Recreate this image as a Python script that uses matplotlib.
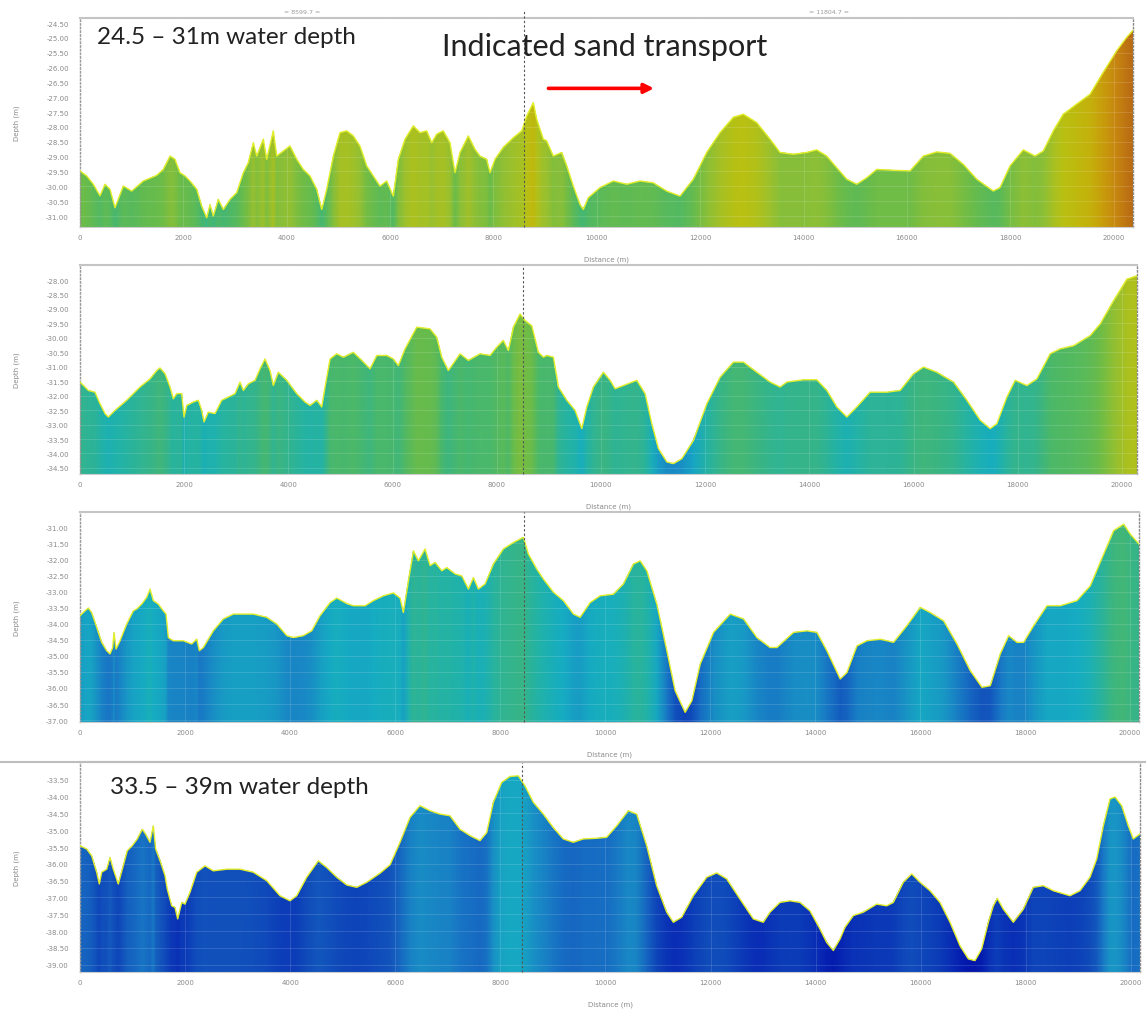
import numpy as np
import matplotlib
matplotlib.use('Agg')
import matplotlib.pyplot as plt
from matplotlib.colors import LinearSegmentedColormap, Normalize
from matplotlib.lines import Line2D

# profile 1 : 24.5 - 31 m water depth
dist_1 = [0, 130, 258, 387, 484, 581, 677, 839, 1000, 1226,
          1484, 1613, 1742, 1838, 1935, 2032, 2129, 2258, 2354, 2451,
          2516, 2580, 2677, 2774, 2903, 3032, 3161, 3257, 3354, 3419,
          3548, 3612, 3741, 3806, 3935, 4064, 4193, 4321, 4451, 4580,
          4677, 4773, 4902, 5031, 5160, 5289, 5418, 5547, 5676, 5805,
          5934, 6063, 6160, 6289, 6450, 6579, 6708, 6805, 6902, 7030,
          7160, 7256, 7353, 7514, 7643, 7740, 7869, 7934, 8030, 8191,
          8385, 8547, 8644, 8772, 8837, 8966, 9030, 9159, 9321, 9418,
          9546, 9675, 9739, 9836, 10062, 10320, 10578, 10836, 11094, 11352,
          11610, 11868, 12126, 12384, 12642, 12835, 13093, 13352, 13545, 13803,
          14061, 14255, 14448, 14642, 14835, 15029, 15222, 15416, 15738, 16061,
          16319, 16577, 16835, 17093, 17351, 17673, 17802, 17996, 18253, 18479,
          18640, 18834, 19027, 19285, 19544, 19801, 20060, 20253, 20375]
depth_1 = [-29.48, -29.65, -29.93, -30.32, -29.93, -30.10, -30.72, -29.99, -30.16, -29.82,
           -29.63, -29.43, -28.98, -29.09, -29.54, -29.65, -29.82, -30.10, -30.66, -31.06,
           -30.61, -31.00, -30.44, -30.78, -30.44, -30.21, -29.54, -29.20, -28.53, -28.98,
           -28.41, -29.09, -28.13, -28.98, -28.81, -28.64, -29.09, -29.43, -29.65, -30.10,
           -30.78, -30.10, -28.98, -28.19, -28.13, -28.30, -28.64, -29.31, -29.65, -29.99,
           -29.82, -30.33, -29.09, -28.41, -27.96, -28.19, -28.13, -28.53, -28.24, -28.13,
           -28.53, -29.54, -28.86, -28.30, -28.75, -28.98, -29.09, -29.54, -29.09, -28.69,
           -28.36, -28.13, -27.63, -27.18, -27.74, -28.41, -28.47, -28.98, -28.86, -29.31,
           -29.99, -30.61, -30.78, -30.38, -30.04, -29.82, -29.93, -29.82, -29.88, -30.16,
           -30.33, -29.76, -28.86, -28.19, -27.68, -27.57, -27.85, -28.41, -28.86, -28.92,
           -28.86, -28.77, -28.98, -29.37, -29.76, -29.93, -29.71, -29.43, -29.46, -29.48,
           -28.98, -28.84, -28.89, -29.26, -29.76, -30.16, -30.04, -29.31, -28.77, -28.98,
           -28.81, -28.13, -27.57, -27.23, -26.90, -26.16, -25.43, -24.98, -24.75]

# profile 2
dist_2 = [0, 96, 160, 288, 384, 480, 544, 672, 896, 1152,
          1344, 1472, 1536, 1632, 1728, 1792, 1856, 1952, 1997, 2048,
          2176, 2272, 2336, 2381, 2464, 2592, 2720, 2848, 2976, 3072,
          3136, 3232, 3360, 3456, 3552, 3648, 3712, 3808, 3968, 4160,
          4320, 4416, 4544, 4640, 4704, 4800, 4928, 5056, 5248, 5408,
          5568, 5696, 5888, 6016, 6112, 6240, 6464, 6720, 6848, 6944,
          7072, 7296, 7456, 7680, 7872, 8000, 8128, 8224, 8320, 8448,
          8544, 8672, 8800, 8896, 8960, 9088, 9184, 9344, 9504, 9632,
          9728, 9856, 10048, 10176, 10272, 10432, 10688, 10848, 10976, 11104,
          11264, 11392, 11552, 11776, 12032, 12288, 12544, 12736, 12992, 13248,
          13440, 13568, 13888, 14144, 14336, 14528, 14720, 14912, 15168, 15488,
          15744, 16000, 16192, 16448, 16768, 17024, 17280, 17472, 17600, 17792,
          17952, 18176, 18368, 18624, 18816, 19072, 19392, 19584, 19840, 20096,
          20290]
depth_2 = [-31.53, -31.70, -31.82, -31.88, -32.28, -32.62, -32.74, -32.51, -32.16, -31.70,
           -31.42, -31.13, -31.04, -31.24, -31.70, -32.11, -31.93, -31.93, -32.74, -32.34,
           -32.22, -32.16, -32.51, -32.91, -32.57, -32.62, -32.16, -32.05, -31.93, -31.53,
           -31.82, -31.59, -31.47, -31.07, -30.73, -31.13, -31.65, -31.19, -31.47, -31.93,
           -32.22, -32.34, -32.16, -32.39, -31.70, -30.73, -30.55, -30.67, -30.50, -30.78,
           -31.07, -30.61, -30.61, -30.73, -30.96, -30.38, -29.63, -29.69, -29.98, -30.67,
           -31.13, -30.55, -30.78, -30.55, -30.61, -30.32, -30.09, -30.44, -29.63, -29.17,
           -29.40, -29.58, -30.50, -30.67, -30.61, -30.67, -31.70, -32.16, -32.51, -33.14,
           -32.39, -31.70, -31.19, -31.47, -31.76, -31.65, -31.47, -31.93, -32.97, -33.83,
           -34.29, -34.35, -34.18, -33.55, -32.28, -31.36, -30.84, -30.84, -31.19, -31.53,
           -31.70, -31.53, -31.45, -31.45, -31.82, -32.39, -32.74, -32.39, -31.88, -31.88,
           -31.82, -31.24, -31.01, -31.19, -31.53, -32.16, -32.85, -33.14, -32.97, -32.05,
           -31.47, -31.65, -31.42, -30.55, -30.38, -30.27, -29.92, -29.52, -28.71, -27.97,
           -27.85]

# profile 3
dist_3 = [0, 95, 159, 222, 318, 413, 508, 572, 622, 648,
          686, 762, 889, 1016, 1080, 1175, 1270, 1334, 1397, 1492,
          1588, 1638, 1683, 1778, 1969, 2127, 2223, 2273, 2350, 2540,
          2731, 2921, 3302, 3556, 3747, 3937, 4064, 4254, 4413, 4572,
          4763, 4890, 5080, 5207, 5430, 5588, 5779, 5969, 6096, 6159,
          6255, 6350, 6445, 6572, 6668, 6763, 6890, 6985, 7144, 7271,
          7398, 7493, 7588, 7715, 7874, 8064, 8255, 8445, 8540, 8699,
          8826, 9017, 9207, 9398, 9525, 9716, 9906, 10160, 10350, 10541,
          10668, 10795, 10986, 11176, 11335, 11525, 11652, 11811, 12065, 12383,
          12636, 12890, 13145, 13272, 13589, 13843, 14034, 14224, 14478, 14605,
          14796, 14986, 15240, 15494, 15748, 16002, 16193, 16447, 16701, 16955,
          17177, 17336, 17526, 17685, 17844, 17971, 18161, 18415, 18669, 18987,
          19241, 19495, 19685, 19876, 20003, 20168]
depth_3 = [-33.75, -33.60, -33.51, -33.65, -34.11, -34.58, -34.84, -34.94, -34.74, -34.27,
           -34.79, -34.53, -34.01, -33.60, -33.54, -33.39, -33.18, -32.92, -33.28, -33.39,
           -33.60, -33.70, -34.43, -34.53, -34.53, -34.63, -34.48, -34.84, -34.74, -34.22,
           -33.85, -33.70, -33.70, -33.80, -34.01, -34.37, -34.43, -34.37, -34.22, -33.75,
           -33.34, -33.20, -33.37, -33.44, -33.44, -33.28, -33.13, -33.04, -33.20, -33.65,
           -32.66, -31.73, -32.04, -31.67, -32.19, -32.09, -32.35, -32.25, -32.45, -32.51,
           -32.92, -32.56, -32.92, -32.76, -32.14, -31.67, -31.47, -31.31, -31.83, -32.30,
           -32.61, -33.02, -33.28, -33.70, -33.80, -33.34, -33.13, -33.08, -32.76, -32.14,
           -32.04, -32.35, -33.39, -34.84, -36.09, -36.76, -36.40, -35.26, -34.27, -33.70,
           -33.85, -34.43, -34.74, -34.74, -34.27, -34.22, -34.27, -34.84, -35.72, -35.52,
           -34.69, -34.53, -34.48, -34.58, -34.06, -33.49, -33.65, -33.91, -34.63, -35.46,
           -35.98, -35.93, -34.94, -34.37, -34.58, -34.58, -34.06, -33.44, -33.44, -33.28,
           -32.82, -31.83, -31.10, -30.90, -31.21, -31.52]

# profile 4 : 33.5 - 39 m water depth
dist_4 = [0, 127, 222, 317, 368, 413, 508, 571, 634, 729,
          805, 900, 995, 1090, 1186, 1249, 1332, 1395, 1440, 1535,
          1618, 1661, 1745, 1808, 1859, 1935, 1998, 2093, 2221, 2379,
          2537, 2791, 3045, 3298, 3552, 3806, 3996, 4123, 4314, 4536,
          4695, 4885, 5075, 5266, 5456, 5709, 5900, 6090, 6280, 6470,
          6661, 6851, 7041, 7231, 7422, 7612, 7739, 7866, 8024, 8183,
          8341, 8468, 8627, 8817, 9007, 9198, 9388, 9578, 9832, 10023,
          10213, 10435, 10594, 10784, 10974, 11165, 11292, 11450, 11672, 11926,
          12116, 12307, 12560, 12814, 13004, 13131, 13321, 13511, 13702, 13892,
          14082, 14209, 14336, 14463, 14558, 14717, 14907, 15161, 15351, 15478,
          15668, 15827, 15986, 16176, 16366, 16557, 16747, 16906, 17032, 17159,
          17286, 17381, 17457, 17571, 17762, 17952, 18142, 18333, 18523, 18840,
          19030, 19220, 19347, 19474, 19601, 19696, 19823, 19950, 20045, 20172]
depth_4 = [-35.46, -35.56, -35.76, -36.25, -36.60, -36.25, -36.16, -35.81, -36.16, -36.60,
           -36.16, -35.61, -35.46, -35.26, -34.97, -35.12, -35.36, -34.87, -35.56, -35.96,
           -36.35, -36.75, -37.25, -37.30, -37.64, -37.15, -37.20, -36.85, -36.25, -36.06,
           -36.21, -36.16, -36.16, -36.25, -36.50, -36.95, -37.10, -36.95, -36.40, -35.91,
           -36.11, -36.40, -36.63, -36.70, -36.55, -36.28, -36.03, -35.36, -34.62, -34.27,
           -34.42, -34.52, -34.57, -34.97, -35.16, -35.31, -35.07, -34.17, -33.58, -33.40,
           -33.38, -33.68, -34.17, -34.52, -34.92, -35.26, -35.36, -35.26, -35.24, -35.21,
           -34.87, -34.42, -34.52, -35.46, -36.65, -37.44, -37.74, -37.59, -36.95, -36.40,
           -36.27, -36.45, -37.05, -37.64, -37.74, -37.44, -37.15, -37.10, -37.15, -37.40,
           -37.94, -38.34, -38.58, -38.24, -37.89, -37.54, -37.44, -37.20, -37.25, -37.15,
           -36.55, -36.30, -36.55, -36.80, -37.15, -37.74, -38.44, -38.83, -38.88, -38.53,
           -37.74, -37.25, -37.03, -37.35, -37.74, -37.35, -36.70, -36.65, -36.80, -36.95,
           -36.80, -36.40, -35.86, -34.87, -34.07, -34.01, -34.27, -34.87, -35.26, -35.11]

# y tick ranges, axis limits and the profile split of each panel
tick_top = [-24.5, -28.0, -31.0, -33.5]
tick_bottom = [-31.0, -34.5, -37.0, -39.0]
y_limits = [(-31.37, -24.33), (-34.71, -27.48), (-37.06, -30.52), (-39.22, -32.97)]
split_at = [8590, 8500, 8460, 8420]

W, H = 1146, 1012

# elevation colour ramp (deep blue -> cyan -> green -> yellow -> orange)
stops = [(-39.2, '#0010a8'), (-38.0, '#0828b4'), (-37.0, '#0c3eb8'), (-36.0, '#1254bc'),
         (-35.0, '#1874c4'), (-34.0, '#1896c4'), (-33.3, '#16acc2'), (-32.5, '#20b2aa'),
         (-31.5, '#34b48c'), (-30.5, '#4cb868'), (-29.5, '#6cbc48'), (-28.5, '#98c030'),
         (-27.5, '#bcc010'), (-26.5, '#c8a808'), (-25.5, '#c88810'), (-24.3, '#b05a14')]
vmin, vmax = stops[0][0], stops[-1][0]
cmap = LinearSegmentedColormap.from_list(
    'bathy', [((v - vmin) / (vmax - vmin), c) for v, c in stops])
norm = Normalize(vmin, vmax)

fig = plt.figure(figsize=(W / 100, H / 100), dpi=100)

# axes boxes in pixels (left, right, top, bottom)
boxes = [(80, 1133, 19, 228), (80, 1137, 266, 475), (80, 1139, 513, 723), (80, 1140, 763, 973)]
profiles = [(dist_1, depth_1), (dist_2, depth_2), (dist_3, depth_3), (dist_4, depth_4)]

axes = []
for i, ((l, r, t, b), (dist, depth)) in enumerate(zip(boxes, profiles)):
    ax = fig.add_axes([l / W, 1 - b / H, (r - l) / W, (b - t) / H])
    axes.append(ax)
    x = np.asarray(dist, dtype=float)
    y = np.asarray(depth, dtype=float)
    ylo, yhi = y_limits[i]
    ax.set_ylim(ylo, yhi)
    ax.set_xlim(0, x[-1])

    # colour every column by its depth, clipped to the profile
    poly = ax.fill_between(x, y, ylo, color='none', lw=0)
    X = np.vstack([x, x])
    Y = np.vstack([np.full_like(x, ylo), np.full_like(x, yhi)])
    C = np.vstack([y, y])
    mesh = ax.pcolormesh(X, Y, C, shading='gouraud', cmap=cmap, norm=norm, zorder=1)
    mesh.set_clip_path(poly.get_paths()[0], ax.transData)
    ax.plot(x, y, color='#e2ee2a', lw=1.0, zorder=3)

    ax.axvline(split_at[i], ymax=1.04 if i == 0 else 1.0, color='#555555',
               lw=0.8, ls=(0, (2, 2)), clip_on=False, zorder=4)

    ticks = np.arange(tick_bottom[i], tick_top[i] + 0.01, 0.5)
    ax.set_yticks(ticks)
    ax.set_yticklabels(['%.2f' % v for v in ticks])
    ax.set_xticks(np.arange(0, 20001, 2000))
    ax.set_xticklabels([str(v) for v in range(0, 20001, 2000)])
    ax.tick_params(length=0, labelsize=5, colors='#8a8a8a')
    ax.tick_params(axis='y', pad=8)
    ax.tick_params(axis='x', pad=5)
    ax.set_xlabel('Distance (m)', fontsize=5, color='#8a8a8a', labelpad=11)
    ax.set_ylabel('Depth (m)', fontsize=5, color='#8a8a8a', labelpad=19)
    ax.grid(True, color='white', alpha=0.16, lw=0.6)
    ax.set_axisbelow(False)

    ax.spines['top'].set_color('#c4c4c4')
    ax.spines['top'].set_linewidth(1.5)
    ax.spines['bottom'].set_color('#cccccc')
    for s in ('left', 'right'):
        ax.spines[s].set_color('#8a8a8a')
        ax.spines[s].set_linestyle(':')
        ax.spines[s].set_linewidth(1.0)

# segment lengths above the first panel
ax1 = axes[0]
seg = [8599.7, 11804.7]
ax1.text(seg[0] / 2, 1.02, '= %.1f =' % seg[0], transform=ax1.get_xaxis_transform(),
         ha='center', va='bottom', fontsize=4.5, color='#999999')
ax1.text(seg[0] + seg[1] / 2, 1.02, '= %.1f =' % seg[1], transform=ax1.get_xaxis_transform(),
         ha='center', va='bottom', fontsize=4.5, color='#999999')

# sand transport arrow
ax1.annotate('', xy=(11160, -26.70), xytext=(9010, -26.70),
             arrowprops=dict(arrowstyle='-|>', color='#ff0000', lw=2.6, mutation_scale=14),
             annotation_clip=False, zorder=6)

fig.text(97 / W, 1 - 38 / H, '24.5 \u2013 31m water depth', fontsize=17.5,
         family=['Lato', 'DejaVu Sans'], color='#222222', va='center', ha='left')
fig.text(442 / W, 1 - 47 / H, 'Indicated sand transport', fontsize=22,
         family=['Lato', 'DejaVu Sans'], color='#222222', va='center', ha='left')
fig.text(110 / W, 1 - 788 / H, '33.5 \u2013 39m water depth', fontsize=17.5,
         family=['Lato', 'DejaVu Sans'], color='#222222', va='center', ha='left')

# separator between the last two panels
fig.add_artist(Line2D([0, 1], [1 - 763 / H] * 2, color='#bdbdbd', lw=1.5))

fig.savefig('out.png', dpi=100)
